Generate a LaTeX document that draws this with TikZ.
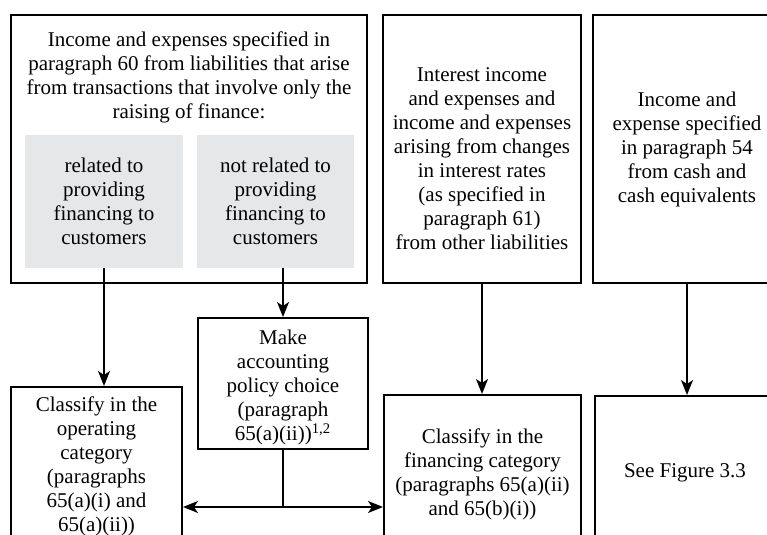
\documentclass[tikz,border=0pt]{standalone}
\usepackage{fontspec}
\setmainfont{Liberation Serif}
\usetikzlibrary{positioning, arrows.meta}
\definecolor{boxgray}{RGB}{230,231,232}

\begin{document}
\begin{tikzpicture}[x=0.5pt, y=-0.5pt,
    every node/.style={font=\fontsize{10.5}{12}\selectfont},
    box/.style={draw, line width=1pt, inner sep=0pt, align=center},
    greybox/.style={fill=boxgray, inner sep=0pt, align=center},
    txt/.style={align=center, inner sep=0pt, anchor=north},
    tip/.tip={Stealth[length=7.5pt, width=6pt, inset=2pt]},
    arr/.style={line width=0.9pt, -tip}]
	\useasboundingbox (0,0) rectangle (767,535);
	\clip (0,0) rectangle (767,535);
	% top row
	\node at (189,149) [box, minimum width=178pt, minimum height=134pt] (liab) {};
	\node at (189,31.5) [txt] (liabtxt) {Income and expenses specified in\\ paragraph 60 from liabilities that arise\\ from transactions that involve only the\\ raising of finance:};
	\node at (104,201.5) [greybox, minimum width=79pt, minimum height=66.5pt] (related) {related to\\ providing\\ financing to\\ customers};
	\node at (275.5,201.5) [greybox, minimum width=78.5pt, minimum height=66.5pt] (notrelated) {not related to\\ providing\\ financing to\\ customers};
	\node at (482,149) [box, minimum width=99pt, minimum height=134pt] (interest) {};
	\node at (482,67) [txt] (interesttxt) {Interest income\\ and expenses and\\ income and expenses\\ arising from changes\\ in interest rates\\ (as specified in\\ paragraph 61)\\ from other liabilities};
	\node at (687,149) [box, minimum width=94pt, minimum height=134pt] (cash) {Income and\\ expense specified\\ in paragraph 54\\ from cash and\\ cash equivalents};
	% bottom row
	\node at (283,383.5) [box, minimum width=85pt, minimum height=65.5pt] (choice) {};
	\node at (283,330) [txt] (choicetxt) {Make\\ accounting\\ policy choice\\ (paragraph\\ 65(a)(ii))\textsuperscript{1,2}};
	\node at (96.5,473.5) [box, minimum width=85.5pt, minimum height=86.5pt] (operating) {};
	\node at (96.5,396) [txt] (operatingtxt) {Classify in the\\ operating\\ category\\ (paragraphs\\ 65(a)(i) and\\ 65(a)(ii))};
	\node at (482.5,477.5) [box, minimum width=98.5pt, minimum height=82.5pt] (financing) {};
	\node at (482.5,428) [txt] (financingtxt) {Classify in the\\ financing category\\ (paragraphs 65(a)(ii)\\ and 65(b)(i))};
	\node at (688,478.5) [box, minimum width=93pt, minimum height=82.5pt] (seefig) {};
	\node at (685,477) [anchor=base, inner sep=0pt] (seefigtxt) {See Figure 3.3};
	% connectors
	\coordinate (fork) at (283,507);
	\draw [arr] (related.south) -- (related.south |- operating.north);
	\draw [arr] (notrelated.south -| choice.north) -- (choice.north);
	\draw [arr] (interest.south) -- (interest.south |- financing.north);
	\draw [arr] (cash.south) -- (cash.south |- seefig.north);
	\draw [line width=0.9pt] (choice.south) -- (fork);
	\draw [arr, tip-tip] (operating.east |- fork) -- (financing.west |- fork);
\end{tikzpicture}
\end{document}
